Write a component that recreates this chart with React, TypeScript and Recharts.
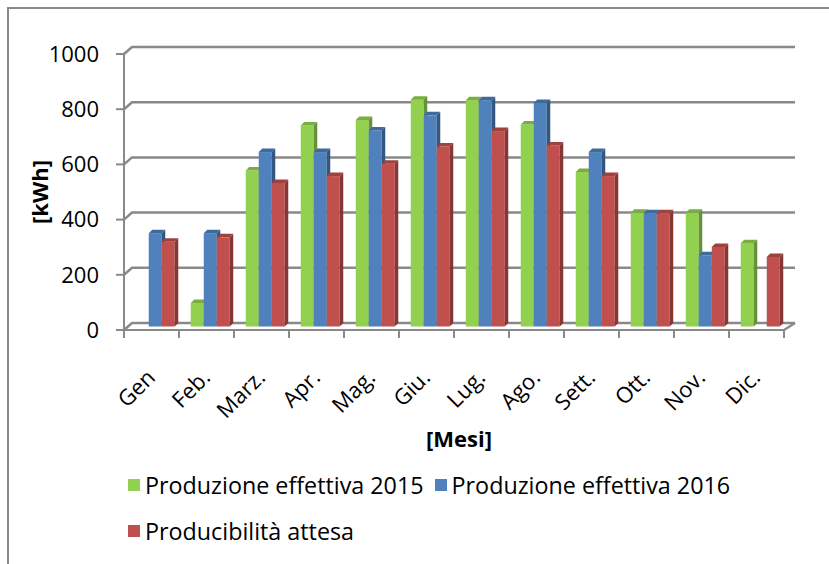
import React from 'react';
import { BarChart, Bar, XAxis, YAxis, CartesianGrid, Label } from 'recharts';

const months = ['Gen', 'Feb.', 'Marz.', 'Apr.', 'Mag.', 'Giu.', 'Lug.', 'Ago.', 'Sett.', 'Ott.', 'Nov.', 'Dic.'];
const prod2015 = [null, 85, 565, 728, 748, 822, 820, 732, 560, 412, 412, 302];
const prod2016 = [338, 338, 632, 632, 710, 765, 820, 810, 632, 410, 258, null];
const attesa = [307, 323, 520, 545, 590, 652, 708, 656, 545, 410, 288, 252];
const yTicks = [0, 200, 400, 600, 800, 1000];

const seriesInfo = [
  { key: 'p2015', name: 'Produzione effettiva 2015', front: '#92D050', top: '#79AE3E', side: '#65913A' },
  { key: 'p2016', name: 'Produzione effettiva 2016', front: '#4F81BD', top: '#3F6A9C', side: '#345781' },
  { key: 'attesa', name: 'Producibilità attesa', front: '#C0504D', top: '#A0413E', side: '#863634' },
];

const data = months.map((m, i) => ({
  month: m,
  p2015: prod2015[i],
  p2016: prod2016[i],
  attesa: attesa[i],
}));

const FONT = '"Open Sans", sans-serif';
const AXIS = '#898989';
// 3D depth offsets
const DX = 3.5;
const DY = 3.5;

const Bar3D = (props: any) => {
  const { x, y, width, height, front, top, side } = props;
  if (!height || height <= 0) return null;
  const fx = x + DX;
  const fy = y - DY;
  return (
    <g>
      <rect x={fx} y={fy} width={width} height={height} fill={front} />
      <polygon
        points={`${fx},${fy} ${fx + width},${fy} ${fx + width + DX},${fy - DY} ${fx + DX},${fy - DY}`}
        fill={top}
      />
      <polygon
        points={`${fx + width},${fy} ${fx + width + DX},${fy - DY} ${fx + width + DX},${fy + height - DY} ${fx + width},${fy + height}`}
        fill={side}
      />
    </g>
  );
};

const MonthTick = (props: any) => {
  const { x, y, payload } = props;
  const ax = x + 5;
  const ay = y + 49;
  return (
    <text
      x={ax}
      y={ay}
      transform={`rotate(-45, ${ax}, ${ay})`}
      textAnchor="end"
      fontFamily={FONT}
      fontSize={22}
      fill="#000"
    >
      {payload.value}
    </text>
  );
};

export default function App() {
  return (
    <div style={{ position: 'absolute', left: 0, top: 0, width: 829, height: 564, overflow: 'hidden', background: '#fff' }}>
      <div
        style={{
          position: 'absolute',
          left: 7,
          top: 7,
          width: 900,
          height: 700,
          border: `2px solid ${AXIS}`,
        }}
      />
      <div style={{ position: 'absolute', left: 0, top: 0 }}>
        <BarChart
          width={829}
          height={564}
          data={data}
          margin={{ top: 54, right: 45, left: 30, bottom: 114 }}
          barCategoryGap="15%"
          barGap={0}
        >
          <CartesianGrid
            horizontal={(p: any) => (
              <polyline
                key={p.key}
                points={`${p.x1},${p.y1} ${p.x1 + 8},${p.y1 - 7} ${p.x2 + 11},${p.y1 - 7}`}
                fill="none"
                stroke={AXIS}
                strokeWidth={2.5}
              />
            )}
            vertical={(p: any) => (
              <g key={p.key}>
                <line x1={p.x1} y1={p.y2} x2={p.x1} y2={p.y2 + 8} stroke={AXIS} strokeWidth={2} />
                {p.index === months.length ? (
                  <line x1={p.x1} y1={p.y2} x2={p.x1 + 11} y2={p.y2 - 7} stroke={AXIS} strokeWidth={2.5} />
                ) : null}
              </g>
            )}
            verticalCoordinatesGenerator={({ offset }: any) =>
              months.map((_, i) => offset.left + (i * offset.width) / months.length).concat(offset.left + offset.width)
            }
          />
          <XAxis
            dataKey="month"
            interval={0}
            height={120}
            tickSize={0}
            tickMargin={0}
            tickLine={false}
            axisLine={{ stroke: AXIS, strokeWidth: 2 }}
            tick={<MonthTick />}
          >
            <Label
              content={({ viewBox }: any) => (
                <text
                  x={viewBox.x + viewBox.width / 2 + 5}
                  y={viewBox.y + 108}
                  textAnchor="middle"
                  dominantBaseline="central"
                  fontFamily={FONT}
                  fontWeight="bold"
                  fontSize={22}
                  fill="#000"
                >
                  [Mesi]
                </text>
              )}
            />
          </XAxis>
          <YAxis
            width={94}
            domain={[0, 1000]}
            ticks={yTicks}
            tickSize={8}
            tickMargin={17}
            axisLine={{ stroke: AXIS, strokeWidth: 2 }}
            tickLine={{ stroke: AXIS, strokeWidth: 2 }}
            tick={{ fontFamily: FONT, fontSize: 22, fill: '#000' }}
          >
            <Label
              content={({ viewBox }: any) => {
                const cx = viewBox.x + 9;
                const cy = viewBox.y + viewBox.height / 2;
                return (
                  <text
                    x={cx}
                    y={cy}
                    transform={`rotate(-90, ${cx}, ${cy})`}
                    textAnchor="middle"
                    dominantBaseline="central"
                    fontFamily={FONT}
                    fontWeight="bold"
                    fontSize={22}
                    fill="#000"
                  >
                    [kWh]
                  </text>
                );
              }}
            />
          </YAxis>
          {seriesInfo.map((s) => (
            <Bar
              key={s.key}
              dataKey={s.key}
              name={s.name}
              fill={s.front}
              isAnimationActive={false}
              shape={(p: any) => <Bar3D {...p} front={s.front} top={s.top} side={s.side} />}
            />
          ))}
        </BarChart>
      </div>
      <div
        style={{
          position: 'absolute',
          left: 128,
          top: 469,
          width: 660,
          display: 'flex',
          flexWrap: 'wrap',
          rowGap: 14,
          columnGap: 11,
          fontFamily: FONT,
          fontSize: 23.3,
          color: '#000',
        }}
      >
        {seriesInfo.map((s) => (
          <div key={s.key} style={{ display: 'flex', alignItems: 'center', height: 32 }}>
            <span style={{ width: 12, height: 12, background: s.front, marginRight: 5, display: 'inline-block' }} />
            <span>{s.name}</span>
          </div>
        ))}
      </div>
    </div>
  );
}
